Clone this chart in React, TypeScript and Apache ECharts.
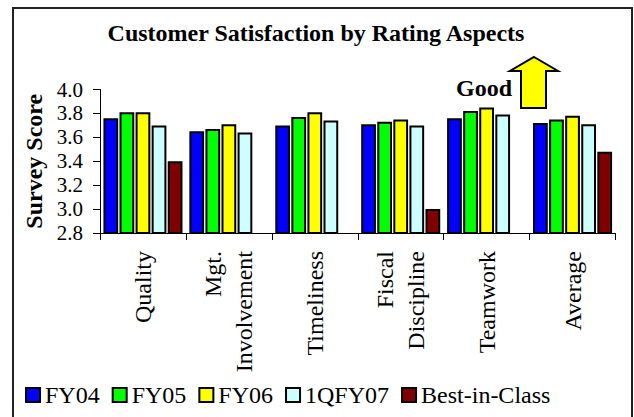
import React, { useEffect, useRef } from "react";
import * as echarts from "echarts";

const categories = ["Quality", "Mgt.\nInvolvement", "Timeliness", "Fiscal\nDiscipline", "Teamwork", "Average"];
const seriesNames = ["FY04", "FY05", "FY06", "1QFY07", "Best-in-Class"];
const fy04 = [3.76, 3.65, 3.70, 3.71, 3.76, 3.72];
const fy05 = [3.81, 3.67, 3.77, 3.73, 3.82, 3.75];
const fy06 = [3.81, 3.71, 3.81, 3.75, 3.85, 3.78];
const q1fy07 = [3.70, 3.64, 3.74, 3.70, 3.79, 3.71];
const bestInClass = [3.40, null, null, 3.00, null, 3.48];
const colors = ["#0000FF", "#00FF00", "#FFFF00", "#CCFFFF", "#800000"];
const yMin = 2.8;
const yMax = 4.0;
const yStep = 0.2;

const FONT = "Liberation Serif";

export default function App() {
  const ref = useRef<HTMLDivElement>(null);
  useEffect(() => {
    if (!ref.current) return;
    const chart = echarts.init(ref.current, null, { renderer: "svg" });
    const allData = [fy04, fy05, fy06, q1fy07, bestInClass];
    chart.setOption({
      animation: false,
      backgroundColor: "#fff",
      textStyle: { fontFamily: FONT, color: "#000" },
      grid: { left: 100, right: 18.5, top: 89.5, bottom: 184, containLabel: false },
      legend: {
        left: 20,
        top: 378,
        itemWidth: 14,
        itemHeight: 14,
        itemGap: 12,
        icon: "rect",
        textStyle: { fontFamily: FONT, fontSize: 24, color: "#000" },
        data: seriesNames,
      },
      xAxis: {
        type: "category",
        data: categories,
        boundaryGap: true,
        axisLine: { lineStyle: { color: "#000", width: 1 } },
        axisTick: { show: true, alignWithLabel: false, length: 7, lineStyle: { color: "#000" } },
        axisLabel: {
          rotate: 90,
          interval: 0,
          margin: 18,
          fontFamily: FONT,
          fontSize: 24,
          color: "#000",
          lineHeight: 31,
        },
      },
      yAxis: {
        type: "value",
        min: yMin,
        max: yMax,
        interval: yStep,
        name: "Survey Score",
        nameLocation: "middle",
        nameRotate: 90,
        nameGap: 54,
        nameTextStyle: { fontFamily: FONT, fontSize: 24, fontWeight: "bold", color: "#000" },
        axisLine: { show: true, lineStyle: { color: "#000", width: 1 } },
        axisTick: { show: true, length: 7, lineStyle: { color: "#000" } },
        splitLine: { show: false },
        axisLabel: {
          margin: 17,
          fontFamily: FONT,
          fontSize: 21,
          color: "#000",
          formatter: (v: number) => v.toFixed(1),
        },
      },
      series: seriesNames.map((name, i) => ({
        name,
        type: "bar",
        data: allData[i],
        barGap: "9%",
        barCategoryGap: "8%",
        itemStyle: { color: colors[i], borderColor: "#000", borderWidth: 2 },
      })),
      graphic: [
        {
          type: "rect",
          shape: { x: 13, y: 8, width: 619, height: 430 },
          style: { fill: "none", stroke: "#222", lineWidth: 2 },
          silent: true,
          z: -1,
        },
        {
          type: "text",
          x: 316,
          y: 33,
          style: {
            text: "Customer Satisfaction by Rating Aspects",
            font: `bold 24px ${FONT}`,
            fill: "#000",
            textAlign: "center",
            textVerticalAlign: "middle",
          },
        },
        {
          type: "text",
          x: 484,
          y: 88,
          style: {
            text: "Good",
            font: `bold 24px ${FONT}`,
            fill: "#000",
            textAlign: "center",
            textVerticalAlign: "middle",
          },
        },
        {
          type: "polygon",
          shape: {
            points: [
              [534, 57],
              [558, 71],
              [546, 71],
              [546, 108],
              [521, 108],
              [521, 71],
              [510, 71],
            ],
          },
          style: { fill: "#FFFF00", stroke: "#000", lineWidth: 2, lineJoin: "miter" },
        },
      ],
    });
    return () => chart.dispose();
  }, []);
  return (
    <div
      ref={ref}
      style={{ position: "absolute", left: 0, top: 0, width: 634, height: 417 }}
    />
  );
}
